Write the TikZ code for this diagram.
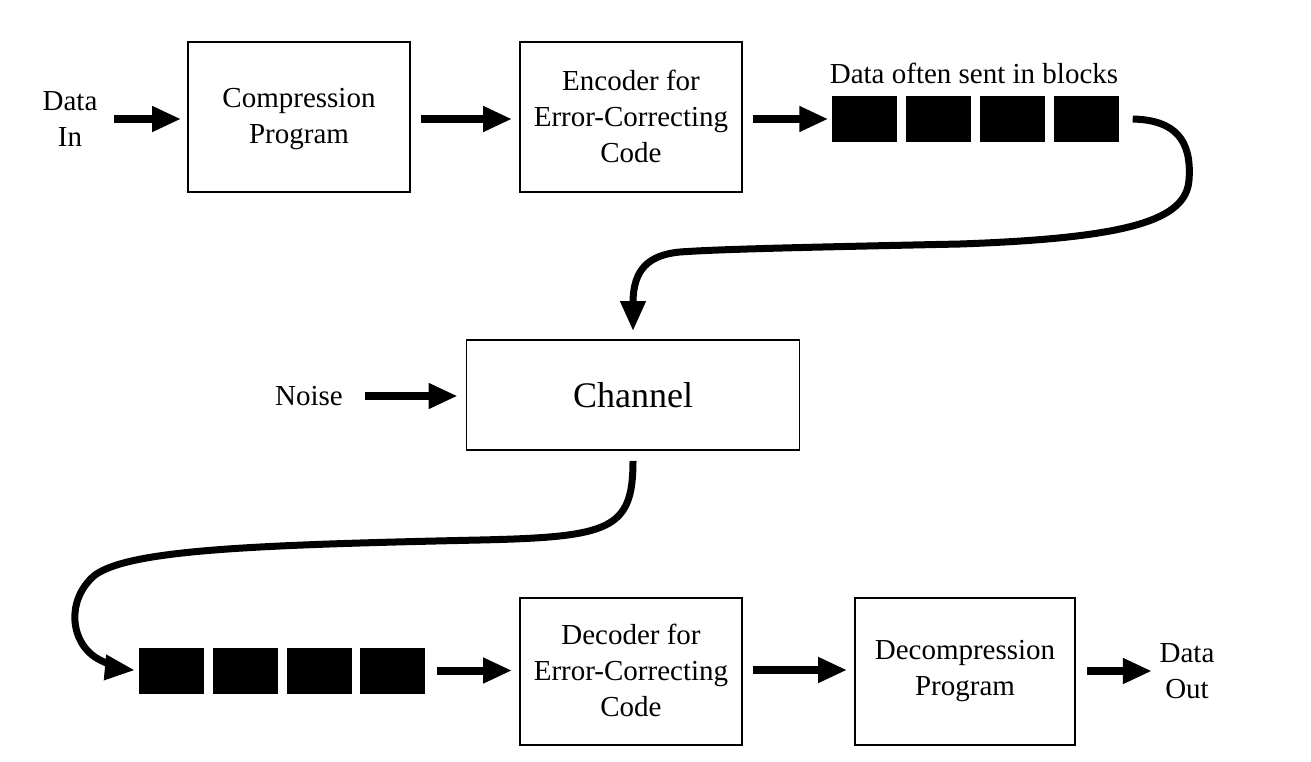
\documentclass[tikz,border=0pt]{standalone}
\usepackage{fontspec}
\setmainfont{Liberation Serif}
\usetikzlibrary{arrows.meta}
\begin{document}
\begin{tikzpicture}[x=1pt,y=-1pt,
  box/.style={draw, line width=1.8pt, rectangle, inner sep=0pt},
  txt/.style={inner sep=0pt, align=center, font=\fontsize{29}{36}\selectfont},
  blk/.style={fill=black, inner sep=0pt, minimum width=65pt, minimum height=46pt},
  arr/.style={line width=8pt, -{Triangle[length=29pt,width=24pt]}},
  curvearr/.style={line width=7pt, -{Triangle[length=30pt,width=24pt]}}
]
\useasboundingbox (0,0) rectangle (1311,762);

% top row
\node[txt] (datain) at (70,119) {Data\\In};
\node[box, minimum width=222pt, minimum height=150pt] (comp) at (299,117) {};
\node[txt] (comptext) at (299,119) {Compression\\Program};
\node[box, minimum width=222pt, minimum height=150pt] (enc) at (631,117) {};
\node[txt] (enctext) at (631,116) {Encoder for\\Error-Correcting\\Code};
\node[blk] (b1) at (864,119) {};
\node[blk] (b2) at (938,119) {};
\node[blk] (b3) at (1012,119) {};
\node[blk] (b4) at (1086,119) {};
\node[txt] (blocklabel) at (974,73) {Data often sent in blocks};

% middle
\node[txt] (noise) at (309,396) {Noise};
\node[box, minimum width=333pt, minimum height=110pt, font=\fontsize{36}{40}\selectfont] (channel) at (633,395) {Channel};

% bottom row
\node[blk] (c1) at (171,670.5) {};
\node[blk] (c2) at (245,670.5) {};
\node[blk] (c3) at (319,670.5) {};
\node[blk] (c4) at (392.5,670.5) {};
\node[box, minimum width=222pt, minimum height=147pt] (dec) at (631,671.5) {};
\node[txt] (dectext) at (631,670) {Decoder for\\Error-Correcting\\Code};
\node[box, minimum width=220pt, minimum height=147pt] (decomp) at (965,671.5) {};
\node[txt] (decomptext) at (965,671) {Decompression\\Program};
\node[txt] (dataout) at (1187,671) {Data\\Out};

% straight arrows
\draw[arr, shorten <=16.5pt, shorten >=6pt] (datain.east) -- (datain.east -| comp.west);
\draw[arr, shorten <=10pt, shorten >=7pt] (comptext -| comp.east) -- (comptext -| enc.west);
\draw[arr, shorten <=10pt, shorten >=3pt] (b1 -| enc.east) -- (b1.west);
\draw[arr, shorten <=22pt, shorten >=8pt] (noise.east) -- (noise.east -| channel.west);
\draw[arr, shorten <=12pt, shorten >=7pt] (c4.east) -- (c4.east -| dec.west);
\draw[arr, shorten <=10pt, shorten >=7pt] (dectext -| dec.east) -- (dectext -| decomp.west);
\draw[arr, shorten <=11pt, shorten >=7.5pt] (decomptext -| decomp.east) -- (decomptext -| dataout.west);

% curved connectors
\draw[curvearr, shorten >=8pt] ([xshift=14pt]b4.east)
  .. controls (1175,120) and (1192,140) .. (1189,180)
  .. controls (1186,220) and (1130,238) .. (960,244)
  .. controls (820,247) and (720,249) .. (680,252)
  .. controls (648,255) and (634,270) .. (633,300)
  -- (channel.north);
\draw[curvearr, shorten <=10pt, shorten >=3.5pt] (channel.south)
  .. controls (633,530) and (610,537) .. (480,540)
  .. controls (250,545) and (130,550) .. (95,575)
  .. controls (65,600) and (70,645) .. (100,660)
  .. controls (112,666) and (122,669) .. (c1.west);
\end{tikzpicture}
\end{document}
